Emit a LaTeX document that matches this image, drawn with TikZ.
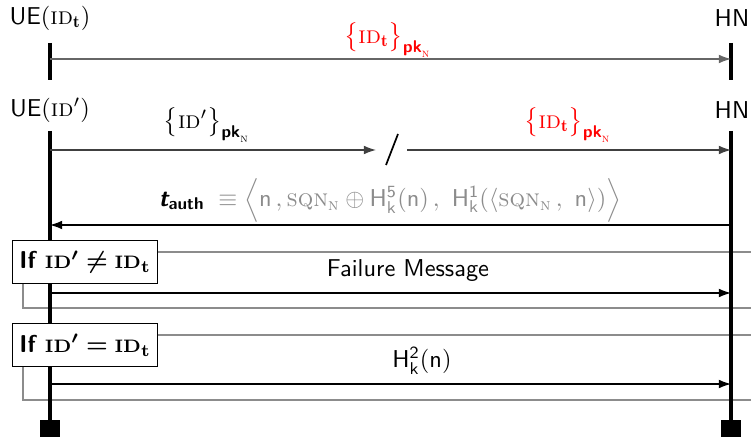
\documentclass[tikz,border=0pt]{standalone}
\usepackage{amsmath,amssymb,bm}
\usepackage{fontspec}
\usetikzlibrary{arrows.meta}
\newcommand{\ID}{\text{\normalfont\textsc{id}}}
\newcommand{\bID}{\text{\normalfont\bfseries\fontsize{7.4}{8}\selectfont ID}}
\newcommand{\smN}{\text{\normalfont\textsc{n}}}
\newcommand{\pkN}{\text{\sffamily\bfseries pk}_{\smN}}
\newcommand{\SQN}{\text{\normalfont\textsc{sqn}}_{\smN}}
\begin{document}
\begin{tikzpicture}[x=0.41pt,y=-0.41pt,
  life/.style={line width=1.5pt},
  msg/.style={line width=0.5pt,-{Latex[length=5pt,width=3.6pt]}},
  grayl/.style={black!45,line width=0.9pt},
  cond/.style={draw,fill=white,line width=0.5pt,minimum width=59.5pt,minimum height=17.6pt,inner sep=2pt,anchor=north west},
  lbl/.style={inner sep=0pt},
  endbox/.style={fill=black,minimum width=8.2pt,minimum height=7pt,inner sep=0pt,anchor=north}]
\useasboundingbox (0,0) rectangle (751,437);

% top section
\node[lbl] (ue1) at (50,18) {\textsf{UE}($\ID_{\mathbf t}$)};
\node[lbl] (hn1) at (732,18) {\textsf{HN}};
\coordinate (u1t) at (50,43); \coordinate (u1b) at (50,80);
\coordinate (h1t) at (731,43); \coordinate (h1b) at (731,80);
\coordinate (a1s) at (50,59); \coordinate (a1e) at (731,59);

% second section
\node[lbl] (ue2) at (50,110) {\textsf{UE}($\ID'$)};
\node[lbl] (hn2) at (732,110) {\textsf{HN}};
\coordinate (u2t) at (50,131); \coordinate (h2t) at (731,131);
\node[endbox] (ue2end) at (50,420) {};
\node[endbox] (hn2end) at (731,420) {};

% gray condition frames (behind lifelines)
\node[cond] (c1) at (12,240) {\textsf{\bfseries If} $\boldsymbol{\bID' \neq \bID_{\mathbf t}}$};
\node[cond] (c2) at (12,323) {\textsf{\bfseries If} $\boldsymbol{\bID' = \bID_{\mathbf t}}$};
\coordinate (g1) at (751,252); \coordinate (b1) at (23,308); \coordinate (b1e) at (751,308);
\coordinate (g2) at (751,335); \coordinate (b2) at (23,400); \coordinate (b2e) at (751,400);
\draw[grayl] (c1.east |- g1) -- (g1);
\draw[grayl] (c1.south -| b1) -- (b1) -- (b1e);
\draw[grayl] (c2.east |- g2) -- (g2);
\draw[grayl] (c2.south -| b2) -- (b2) -- (b2e);

% lifelines
\draw[life] (u1t) -- (u1b);
\draw[life] (h1t) -- (h1b);
\draw[life] (u2t) -- (ue2end.north);
\draw[life] (h2t) -- (hn2end.north);

% messages
\draw[msg,black!60] (a1s) -- (a1e);
\node[lbl,text=red] (m1) at (388,40) {$\big\{\ID_{\mathbf t}\big\}_{\pkN}$};

\coordinate (a2s) at (50,150); \coordinate (a2m) at (376,150);
\coordinate (a2n) at (407,150); \coordinate (a2e) at (731,150);
\coordinate (sl1) at (386,165); \coordinate (sl2) at (398,134);
\draw[msg,black!75] (a2s) -- (a2m);
\draw[msg,black!75] (a2n) -- (a2e);
\draw[line width=0.7pt] (sl1) -- (sl2);
\node[lbl] (m2a) at (207,125) {$\big\{\ID'\big\}_{\pkN}$};
\node[lbl,text=red] (m2b) at (568,125) {$\big\{\ID_{\mathbf t}\big\}_{\pkN}$};

\coordinate (a3s) at (731,225); \coordinate (a3e) at (50,225);
\draw[msg] (a3s) -- (a3e);
\node[lbl] (m3) at (390,200) {$\text{\sffamily\bfseries\itshape t}_{\text{\sffamily\bfseries auth}}$\textcolor{black!45}{$\;\;\equiv \Big\langle \mathsf{n}\,, \SQN \oplus \mathsf{H}^{\mathsf 5}_{\mathsf k}(\mathsf n)\,,\ \mathsf H^{\mathsf 1}_{\mathsf k}(\langle \SQN\,,\ \mathsf n\rangle)\Big\rangle$}};

\coordinate (a4s) at (50,293); \coordinate (a4e) at (731,293);
\draw[msg] (a4s) -- (a4e);
\node[lbl] (m4) at (408,271) {\textsf{Failure Message}};

\coordinate (a5s) at (50,384); \coordinate (a5e) at (731,384);
\draw[msg] (a5s) -- (a5e);
\node[lbl] (m5) at (422,361) {$\mathsf H^{\mathsf 2}_{\mathsf k}(\mathsf n)$};

% boxes on top
\node[cond] at (12,240) {\textsf{\bfseries If} $\boldsymbol{\bID' \neq \bID_{\mathbf t}}$};
\node[cond] at (12,323) {\textsf{\bfseries If} $\boldsymbol{\bID' = \bID_{\mathbf t}}$};
\end{tikzpicture}
\end{document}
